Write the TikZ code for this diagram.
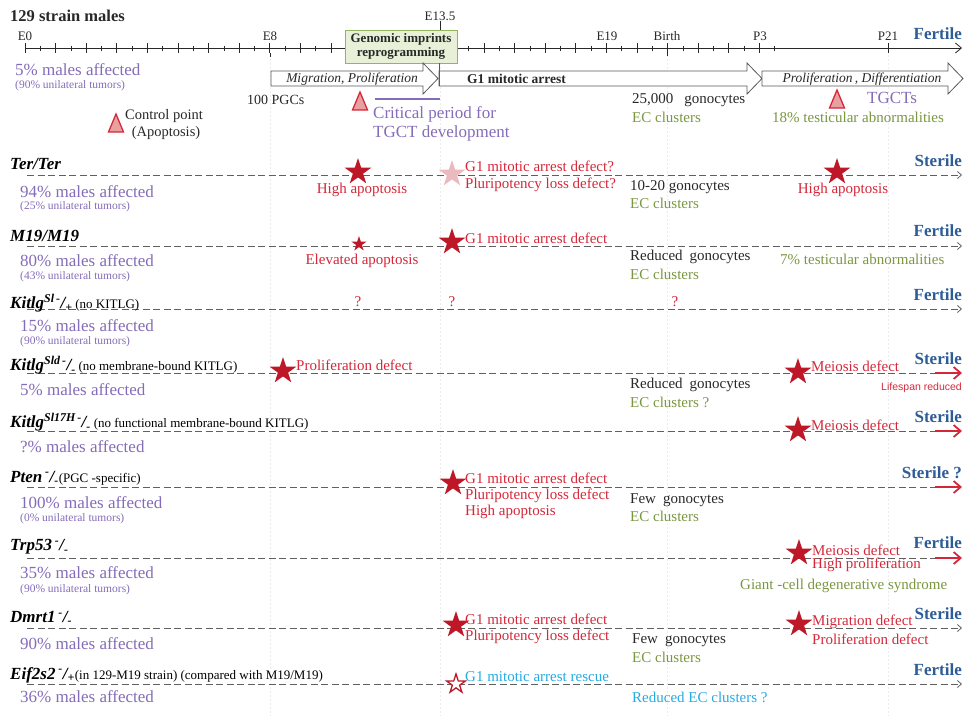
\documentclass[tikz,border=0pt]{standalone}
\usepackage{fontspec}
\setmainfont{Liberation Serif}
\newfontfamily\sansf{Liberation Sans}
\usetikzlibrary{shapes.geometric,arrows.meta}

\definecolor{affpurple}{RGB}{132,108,184}
\definecolor{fertblue}{RGB}{46,92,150}
\definecolor{defred}{RGB}{212,40,58}
\definecolor{starred}{RGB}{190,24,40}
\definecolor{ecgreen}{RGB}{122,150,64}
\definecolor{rescuecyan}{RGB}{38,170,226}
\definecolor{boxgreen}{RGB}{232,241,215}
\definecolor{boxedge}{RGB}{150,180,95}
\definecolor{tripink}{RGB}{232,160,160}
\definecolor{textdark}{RGB}{40,40,40}

% small upright note after a genotype
\newcommand{\gnote}[1]{\textnormal{\fontsize{13}{15}\selectfont #1}}
% control point triangle
\newcommand{\ctrlpt}[2]{\draw[ctrl] (#1-7.5,#2+9) -- (#1,#2-9) -- (#1+7.5,#2+9) -- cycle;}

\tikzset{
  lbl/.style={inner sep=0pt, anchor=west, text=textdark, font=\fontsize{15}{17}\selectfont},
  affected/.style={lbl, text=affpurple, font=\fontsize{17}{19}\selectfont},
  tumors/.style={lbl, text=affpurple, font=\fontsize{11.5}{13}\selectfont},
  geno/.style={lbl, text=black, font=\fontsize{17}{19}\selectfont\bfseries\itshape},
  defect/.style={lbl, text=defred},
  ec/.style={lbl, text=ecgreen},
  rescue/.style={lbl, text=rescuecyan},
  outcome/.style={inner sep=0pt, anchor=east, text=fertblue, font=\fontsize{17}{19}\selectfont\bfseries},
  tick/.style={inner sep=0pt, text=textdark, font=\fontsize{13}{15}\selectfont},
  bigstar/.style={star, star points=5, star point ratio=2.6, fill=starred, draw=none, minimum size=28pt, inner sep=0pt},
  smallstar/.style={bigstar, minimum size=16pt},
  palestar/.style={bigstar, fill=starred!30},
  openstar/.style={bigstar, fill=white, draw=starred, line width=1.3pt, minimum size=20pt},
  ctrl/.style={fill=tripink, draw=defred, line width=1.3pt, line join=miter},
  rowline/.style={draw=gray!75!black, dash pattern=on 7pt off 3.5pt, line width=0.8pt},
  rowend/.style={draw=defred, line width=1.8pt, -{Straight Barb[length=7pt,width=12pt]}},
  axisline/.style={draw=textdark, line width=0.8pt},
  phase/.style={draw=gray!70!black, fill=white, line width=0.8pt},
  guide/.style={draw=gray!15, dash pattern=on 2pt off 2pt, line width=0.6pt},
  imprint/.style={draw=boxedge, fill=boxgreen, align=center, minimum width=112pt, minimum height=33pt, inner sep=1pt, text=textdark, font=\fontsize{13}{14.5}\selectfont\bfseries}
}

\begin{document}
\begin{tikzpicture}[x=1pt,y=-1pt]
\useasboundingbox (0,0) rectangle (967,716);
%draw faint guide lines
\foreach \gx in {270,440,667,888}
  \draw[guide] (\gx,55) -- (\gx,716);
%draw time axis
\draw[axisline,-{Straight Barb[length=6pt,width=10pt]}] (25,48) -- (962,48);
%draw ticks
\foreach \d in {0,...,24}
  \draw[axisline] (25+30.6*\d,43) -- (25+30.6*\d,53);
\foreach \d in {0,...,24}
  \draw[axisline] (40.3+30.6*\d,45.5) -- (40.3+30.6*\d,50.5);
\draw[axisline] (888,43) -- (888,53);
\draw[axisline] (270,53) -- (270,57);
\draw[axisline] (667,53) -- (667,56);
\draw[axisline] (440,21) -- (440,30);
%draw tick labels
\node[lbl, font=\fontsize{16.5}{18}\selectfont\bfseries] (title) at (10,16) {129 strain males};
\node[tick] (tE0) at (25,36) {E0};
\node[tick] (tE8) at (270,36) {E8};
\node[tick] (tE13) at (440,16) {E13.5};
\node[tick] (tE19) at (607,36) {E19};
\node[tick] (tbirth) at (667,36) {Birth};
\node[tick] (tP3) at (760,36) {P3};
\node[tick] (tP21) at (888,36) {P21};
\node[outcome] (wtout) at (962,34) {Fertile};
\node[imprint] (imprint) at (401,46.5) {Genomic imprints\\reprogramming};
%
\draw[phase] (271,71) -- (423,71) -- (423,63) -- (438,78.5) -- (423,94) -- (423,86) -- (271,86) -- cycle;
\draw[phase] (439,71) -- (747,71) -- (747,63) -- (762,78.5) -- (747,94) -- (747,86) -- (439,86) -- cycle;
\draw[phase] (762,71) -- (948,71) -- (948,63) -- (963,78.5) -- (948,94) -- (948,86) -- (762,86) -- cycle;
\draw[gray!70!black, line width=0.8pt] (imprint.south -| 439,0) -- (439,86);
\node[tick, font=\fontsize{13.5}{15}\selectfont\itshape] (migr) at (352,79) {Migration, Proliferation};
\node[lbl, font=\fontsize{13.5}{15}\selectfont\bfseries] (arrest) at (467,79) {G1 mitotic arrest};
\node[tick, font=\fontsize{13.5}{15}\selectfont\itshape] (prolif) at (862,79) {Proliferation\,, Differentiation};
%
\node[affected] (wtpct) at (15,70) {5\% males affected};
\node[tumors] (wtuni) at (15,86) {(90\% unilateral tumors)};
\node[lbl, font=\fontsize{14}{16}\selectfont] (pgc) at (247,100) {100 PGCs};
\ctrlpt{360}{101}
\draw[affpurple, line width=1.8pt] (375,99) -- (440,99);
\node[lbl, text=affpurple, font=\fontsize{17}{19}\selectfont] (crit) at (373,114) {Critical period for};
\node[lbl, text=affpurple, font=\fontsize{17}{19}\selectfont] (tgctdev) at (373,133) {TGCT development};
\ctrlpt{116}{123}
\node[lbl, font=\fontsize{14.5}{16}\selectfont] (ctrl) at (125,116) {Control point};
\node[tick, font=\fontsize{14.5}{16}\selectfont] (apop) at (166,133) {(Apoptosis)};
\node[lbl] (wtgono) at (632,100) {25,000\hspace{11pt}gonocytes};
\node[ec] (wtec) at (632,117) {EC clusters};
\ctrlpt{837}{99}
\node[lbl, text=affpurple, font=\fontsize{17}{19}\selectfont] (tgct) at (867,98) {TGCTs};
\node[ec] (wtabn) at (772,117) {18\% testicular abnormalities};

%draw mutant rows
\foreach \y in {175,246,309,628,684}
  \draw[rowline, -{Straight Barb[length=4pt,width=7pt]}] (27,\y) -- (962,\y);
\foreach \y in {373,431,487,558}
  {\draw[rowline] (27,\y) -- (935,\y);
   \draw[rowend] (935,\y) -- (962,\y);}

% Ter/Ter
\node[geno] (terG) at (10,164) {Ter/Ter};
\node[affected] (terpct) at (20,192) {94\% males affected};
\node[tumors] (teruni) at (20,207) {(25\% unilateral tumors)};
\node[bigstar] (terS1) at (358,172) {};
\node[defect, anchor=center] (terD1) at (362,190) {High apoptosis};
\node[palestar] (terS2) at (452,174) {};
\node[defect] (terD2) at (465,166) {G1 mitotic arrest defect?};
\node[defect] (terD3) at (465,185) {Pluripotency loss defect?};
\node[lbl] (tergono) at (630,187) {10-20 gonocytes};
\node[ec] (terec) at (630,203) {EC clusters};
\node[bigstar] (terS3) at (837,172) {};
\node[defect, anchor=center] (terD4) at (843,190) {High apoptosis};
\node[outcome] (terout) at (962,161) {Sterile};

% M19/M19
\node[geno] (mG) at (10,236) {M19/M19};
\node[affected] (mpct) at (20,261) {80\% males affected};
\node[tumors] (muni) at (20,277) {(43\% unilateral tumors)};
\node[smallstar] (mS1) at (359,244) {};
\node[defect, anchor=center] (mD1) at (362,261) {Elevated apoptosis};
\node[bigstar] (mS2) at (452,242) {};
\node[defect] (mD2) at (465,238) {G1 mitotic arrest defect};
\node[lbl] (mgono) at (630,257) {Reduced\hspace{7pt}gonocytes};
\node[ec] (mec) at (630,274) {EC clusters};
\node[ec] (mabn) at (780,259) {7\% testicular abnormalities};
\node[outcome] (mout) at (962,231) {Fertile};

% Kitlg Sl
\node[geno] (kslG) at (10,303) {Kitlg\textsuperscript{Sl\,-}/\textsubscript{+}\,\gnote{(no KITLG)}};
\node[tumors, font=\fontsize{17}{19}\selectfont] (kslpct) at (20,326) {15\% males affected};
\node[tumors] (ksluni) at (20,342) {(90\% unilateral tumors)};
\node[defect, anchor=center] (kslQ1) at (358,302) {?};
\node[defect, anchor=center] (kslQ2) at (452,302) {?};
\node[defect, anchor=center] (kslQ3) at (675,302) {?};
\node[outcome] (kslout) at (962,295) {Fertile};

% Kitlg Sld
\node[geno] (ksldG) at (10,365) {Kitlg\textsuperscript{Sld\,-}/\textsubscript{-}\,\gnote{(no membrane-bound KITLG)}};
\node[affected] (ksldpct) at (20,390) {5\% males affected};
\node[bigstar] (ksldS1) at (283,371) {};
\node[defect] (ksldD1) at (296,365) {Proliferation defect};
\node[lbl] (ksldgono) at (630,385) {Reduced\hspace{7pt}gonocytes};
\node[ec] (ksldec) at (630,402) {EC clusters ?};
\node[bigstar] (ksldS2) at (798,372) {};
\node[defect] (ksldD2) at (811,366) {Meiosis defect};
\node[outcome] (ksldout) at (962,359) {Sterile};
\node[inner sep=0pt, anchor=east, text=defred, font=\sansf\fontsize{10.5}{12}\selectfont] (life) at (962,388) {Lifespan reduced};

% Kitlg Sl17H
\node[geno] (khG) at (10,422) {Kitlg\textsuperscript{Sl17H\,-}/\textsubscript{-}\,\gnote{(no functional membrane-bound KITLG)}};
\node[affected] (khpct) at (20,447) {?\% males affected};
\node[bigstar] (khS1) at (798,430) {};
\node[defect] (khD1) at (811,425) {Meiosis defect};
\node[outcome] (khout) at (962,417) {Sterile};

% Pten
\node[geno] (ptG) at (10,478) {Pten\,\textsuperscript{-}/\textsubscript{-}\gnote{(PGC -specific)}};
\node[affected] (ptpct) at (20,503) {100\% males affected};
\node[tumors] (ptuni) at (20,519) {(0\% unilateral tumors)};
\node[bigstar] (ptS1) at (453,483) {};
\node[defect] (ptD1) at (465,478) {G1 mitotic arrest defect};
\node[defect] (ptD2) at (465,496) {Pluripotency loss defect};
\node[defect] (ptD3) at (465,512) {High apoptosis};
\node[lbl] (ptgono) at (630,500) {Few\hspace{7pt}gonocytes};
\node[ec] (ptec) at (630,516) {EC clusters};
\node[outcome] (ptout) at (962,473) {Sterile ?};

% Trp53
\node[geno] (tpG) at (10,547) {Trp53\,\textsuperscript{-}/\textsubscript{-}};
\node[affected] (tppct) at (20,573) {35\% males affected};
\node[tumors] (tpuni) at (20,590) {(90\% unilateral tumors)};
\node[bigstar] (tpS1) at (799,553) {};
\node[defect] (tpD1) at (812,550) {Meiosis defect};
\node[defect] (tpD2) at (812,565) {High proliferation};
\node[ec] (tpgiant) at (740,586) {Giant -cell degenerative syndrome};
\node[outcome] (tpout) at (962,543) {Fertile};

% Dmrt1
\node[geno] (dmG) at (10,618) {Dmrt1\,\textsuperscript{-}/\textsubscript{-}};
\node[affected] (dmpct) at (20,644) {90\% males affected};
\node[bigstar] (dmS1) at (456,625) {};
\node[defect] (dmD1) at (465,619) {G1 mitotic arrest defect};
\node[defect] (dmD2) at (465,637) {Pluripotency loss defect};
\node[lbl] (dmgono) at (632,640) {Few\hspace{7pt}gonocytes};
\node[ec] (dmec) at (632,657) {EC clusters};
\node[bigstar] (dmS2) at (799,624) {};
\node[defect] (dmD3) at (812,622) {Migration defect};
\node[defect] (dmD4) at (812,639) {Proliferation defect};
\node[outcome] (dmout) at (962,614) {Sterile};

% Eif2s2
\node[geno] (eiG) at (10,675) {Eif2s2\,\textsuperscript{-}/\textsubscript{+}\gnote{(in 129-M19 strain) (compared with M19/M19)}};
\node[affected] (eipct) at (20,697) {36\% males affected};
\node[openstar] (eiS1) at (456,684) {};
\node[rescue] (eiR1) at (465,677) {G1 mitotic arrest rescue};
\node[rescue] (eiR2) at (632,697) {Reduced EC clusters ?};
\node[outcome] (eiout) at (962,670) {Fertile};

\end{tikzpicture}
\end{document}
